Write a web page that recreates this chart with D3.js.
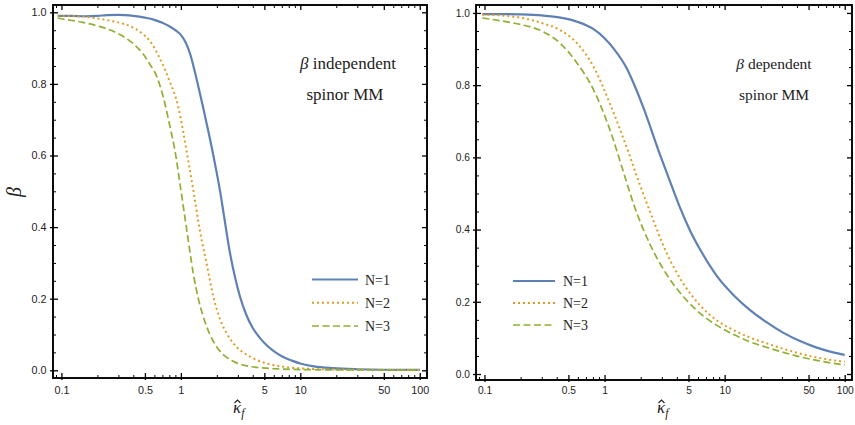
<!DOCTYPE html>
<html>
<head>
<meta charset="utf-8">
<script src="https://cdn.jsdelivr.net/npm/d3@7"></script>
<style>
  body { margin: 0; background: #fff; }
  svg { display: block; }
  .tick text { font-family: "Liberation Sans", Arial, sans-serif; fill: #222; }
</style>
</head>
<body>
<svg id="chart" width="855" height="425"></svg>
<script>
// tick values
const kappaTicks = [0.1, 0.5, 1, 5, 10, 50, 100]
const kappaMinor = [0.09, 0.2, 0.3, 0.4, 0.6, 0.7, 0.8, 0.9, 2, 3, 4, 6, 7, 8, 9, 20, 30, 40, 60, 70, 80, 90]
const betaTicks = [0, 0.2, 0.4, 0.6, 0.8, 1.0]
const betaMinor = [0.05, 0.1, 0.15, 0.25, 0.3, 0.35, 0.45, 0.5, 0.55, 0.65, 0.7, 0.75, 0.85, 0.9, 0.95]
const seriesNames = ["N=1", "N=2", "N=3"]

// beta independent spinor MM : [kappa_f, beta]
const leftN1 = [[0.093,0.99],[0.12,0.99],[0.16,0.989],[0.2,0.99],[0.24,0.992],[0.3,0.993],[0.4,0.99],[0.5,0.985],[0.6,0.979],[0.7,0.971],[0.8,0.961],[0.9,0.95],[1.0,0.937],[1.1,0.915],[1.2,0.882],[1.3,0.838],[1.4,0.793],[1.53,0.737],[1.68,0.675],[1.82,0.62],[2.0,0.55],[2.12,0.504],[2.3,0.43],[2.57,0.33],[2.85,0.258],[3.12,0.207],[3.5,0.158],[4,0.118],[4.6,0.09],[5.23,0.07],[6.2,0.05],[7.2,0.037],[8.5,0.027],[10,0.019],[13,0.011],[18.8,0.006],[30,0.003],[50,0.0015],[100,0.001]]
const leftN2 = [[0.093,0.99],[0.12,0.99],[0.15,0.988],[0.2,0.983],[0.25,0.977],[0.33,0.968],[0.4,0.957],[0.47,0.942],[0.55,0.92],[0.67,0.87],[0.81,0.805],[0.95,0.737],[1.05,0.663],[1.15,0.588],[1.27,0.504],[1.44,0.392],[1.64,0.299],[1.87,0.206],[2.19,0.132],[2.45,0.1],[2.74,0.076],[3.2,0.054],[3.79,0.0385],[4.7,0.024],[5.9,0.015],[8,0.008],[12,0.004],[20,0.002],[50,0.001],[100,0.0005]]
const leftN3 = [[0.093,0.984],[0.1,0.982],[0.15,0.972],[0.21,0.96],[0.3,0.94],[0.4,0.912],[0.48,0.885],[0.55,0.855],[0.63,0.82],[0.71,0.765],[0.81,0.681],[0.89,0.616],[1.0,0.504],[1.12,0.392],[1.27,0.271],[1.4,0.2],[1.54,0.15],[1.75,0.1],[1.99,0.066],[2.3,0.042],[2.74,0.025],[3.5,0.013],[5.2,0.006],[10,0.002],[30,0.001],[100,0.0005]]

// beta dependent spinor MM
const rightN1 = [[0.096,0.997],[0.15,0.997],[0.2,0.996],[0.3,0.993],[0.43,0.987],[0.6,0.975],[0.81,0.955],[1.0,0.93],[1.2,0.9],[1.54,0.845],[1.8,0.795],[2.11,0.737],[2.9,0.607],[3.45,0.54],[4.2,0.465],[5.16,0.397],[6.5,0.335],[8.6,0.272],[12,0.217],[16.3,0.177],[22,0.145],[30.9,0.114],[42,0.092],[58.5,0.073],[80,0.06],[100,0.053]]
const rightN2 = [[0.096,0.995],[0.15,0.992],[0.2,0.987],[0.3,0.972],[0.43,0.952],[0.59,0.916],[0.81,0.851],[1.12,0.745],[1.54,0.625],[1.95,0.528],[2.4,0.448],[3.3,0.334],[4.54,0.25],[6.25,0.19],[8.5,0.15],[11.8,0.122],[16,0.102],[22.3,0.085],[30,0.071],[42,0.057],[60,0.045],[100,0.034]]
const rightN3 = [[0.096,0.986],[0.15,0.976],[0.2,0.968],[0.3,0.95],[0.43,0.915],[0.59,0.861],[0.81,0.787],[1.12,0.672],[1.45,0.555],[1.74,0.472],[2.4,0.358],[3.3,0.275],[4.54,0.214],[6.25,0.168],[8.5,0.136],[11.8,0.11],[16,0.09],[22.3,0.074],[30,0.061],[42,0.048],[60,0.037],[100,0.025]]

const colors = ["#5E81B5", "#E19C24", "#8FB032"]
const dashes = [null, "2,3", "7,3.5"]
const widths = [2.2, 2, 1.7]

const svg = d3.select("#chart")

const drawPanel = cfg => {
  const x = d3.scaleLog().domain([0.085, 115]).range(cfg.xr)
  const y = d3.scaleLinear().domain(cfg.yd).range(cfg.yr)
  const g = svg.append("g")
  const fs = cfg.fs

  const line = d3.line()
    .x(d => x(d[0]))
    .y(d => y(d[1]))
    .curve(d3.curveMonotoneX)

  cfg.series.forEach((s, i) => {
    g.append("path")
      .datum(s)
      .attr("fill", "none")
      .attr("stroke", colors[i])
      .attr("stroke-width", widths[i])
      .attr("stroke-dasharray", dashes[i])
      .attr("d", line)
  })

  // axes: inner major, inner minor, outer stubs
  const addAxis = (axis, tr, big) => {
    const a = g.append("g").attr("transform", tr).call(axis)
    a.select(".domain").remove()
    a.selectAll("line").attr("stroke", "#000").attr("stroke-width", big ? 1.3 : 1)
    return a
  }
  const bottom = `translate(0,${cfg.yr[0]})`, top = `translate(0,${cfg.yr[1]})`
  const left = `translate(${cfg.xr[0]},0)`, right = `translate(${cfg.xr[1]},0)`

  addAxis(d3.axisBottom(x).tickValues(kappaTicks).tickSizeInner(-5).tickSizeOuter(0)
    .tickPadding(cfg.xpad).tickFormat(d => d3.format("")(d)), bottom, true)
    .selectAll("text").attr("font-size", fs)
  addAxis(d3.axisBottom(x).tickValues(kappaMinor).tickSizeInner(-3).tickSizeOuter(0).tickFormat(""), bottom)
  addAxis(d3.axisBottom(x).tickValues(kappaTicks).tickSizeInner(2).tickSizeOuter(0).tickFormat(""), bottom, true)
  addAxis(d3.axisTop(x).tickValues(kappaTicks).tickSizeInner(-5).tickSizeOuter(0).tickFormat(""), top, true)
  addAxis(d3.axisTop(x).tickValues(kappaMinor).tickSizeInner(-3).tickSizeOuter(0).tickFormat(""), top)

  addAxis(d3.axisLeft(y).tickValues(betaTicks).tickSizeInner(-5).tickSizeOuter(0)
    .tickPadding(cfg.ypad).tickFormat(d3.format(".1f")), left, true)
    .selectAll("text").attr("font-size", fs)
  addAxis(d3.axisLeft(y).tickValues(betaMinor).tickSizeInner(-3).tickSizeOuter(0).tickFormat(""), left)
  addAxis(d3.axisLeft(y).tickValues(betaTicks).tickSizeInner(3).tickSizeOuter(0).tickFormat(""), left, true)
  addAxis(d3.axisRight(y).tickValues(betaTicks).tickSizeInner(-5).tickSizeOuter(0).tickFormat(""), right, true)
  addAxis(d3.axisRight(y).tickValues(betaMinor).tickSizeInner(-3).tickSizeOuter(0).tickFormat(""), right)

  g.append("rect")
    .attr("x", cfg.xr[0]).attr("y", cfg.yr[1])
    .attr("width", cfg.xr[1] - cfg.xr[0]).attr("height", cfg.yr[0] - cfg.yr[1])
    .attr("fill", "none").attr("stroke", "#000").attr("stroke-width", 1.9)

  // x label: kappa hat with subscript f
  const cx = (cfg.xr[0] + cfg.xr[1]) / 2
  const lab = g.append("text")
    .attr("x", cx - 7).attr("y", 413)
    .attr("font-family", "Liberation Serif, serif").attr("font-style", "italic")
    .attr("font-size", 17).attr("fill", "#222")
  lab.append("tspan").text("κ")
  lab.append("tspan").attr("font-size", 12).attr("dy", 4).text("f")
  // the hat, drawn as a small stroke
  g.append("path")
    .attr("d", `M${cx - 5.5},${403} L${cx - 2.5},${400} L${cx + 0.5},${403}`)
    .attr("fill", "none").attr("stroke", "#222").attr("stroke-width", 1.1)

  if (cfg.ylabel) {
    g.append("text")
      .attr("transform", "translate(21,192) rotate(-90)")
      .attr("text-anchor", "middle")
      .attr("font-family", "Liberation Serif, serif").attr("font-style", "italic")
      .attr("font-size", 20).attr("fill", "#222")
      .text("β")
  }

  // annotation
  const note1 = g.append("text")
    .attr("x", cfg.noteX + cfg.noteShift).attr("y", 69).attr("text-anchor", "middle")
    .attr("font-family", "Liberation Serif, serif").attr("font-size", cfg.noteFs).attr("fill", "#222")
  note1.append("tspan").attr("font-style", "italic").text("β")
  note1.append("tspan").text(" " + cfg.noteWord)
  g.append("text")
    .attr("x", cfg.noteX).attr("y", 100).attr("text-anchor", "middle")
    .attr("font-family", "Liberation Serif, serif").attr("font-size", cfg.noteFs).attr("fill", "#222")
    .text("spinor MM")

  // legend
  seriesNames.forEach((name, i) => {
    const ly = cfg.legY[i]
    g.append("line")
      .attr("x1", cfg.legX[0]).attr("x2", cfg.legX[1])
      .attr("y1", ly).attr("y2", ly)
      .attr("stroke", colors[i]).attr("stroke-width", widths[i])
      .attr("stroke-dasharray", dashes[i])
    g.append("text")
      .attr("x", cfg.legX[2]).attr("y", ly + 5)
      .attr("font-family", "Liberation Serif, serif").attr("font-size", 14).attr("fill", "#222")
      .text(name)
  })
}

drawPanel({
  xr: [53, 427], yr: [378, 5], yd: [-0.0215, 1.0204],
  series: [leftN1, leftN2, leftN3], fs: 10.8, xpad: 8, ypad: 6.5, ylabel: true,
  noteX: 345, noteShift: 3, noteFs: 17, noteWord: "independent",
  legX: [312, 358, 365], legY: [279.5, 302.8, 326]
})

drawPanel({
  xr: [476, 852], yr: [380, 5], yd: [-0.0166, 1.022],
  series: [rightN1, rightN2, rightN3], fs: 10.2, xpad: 7, ypad: 6, ylabel: false,
  noteX: 774, noteShift: 0, noteFs: 15.5, noteWord: "dependent",
  legX: [513, 555, 563], legY: [281, 303, 325]
})
</script>
</body>
</html>
